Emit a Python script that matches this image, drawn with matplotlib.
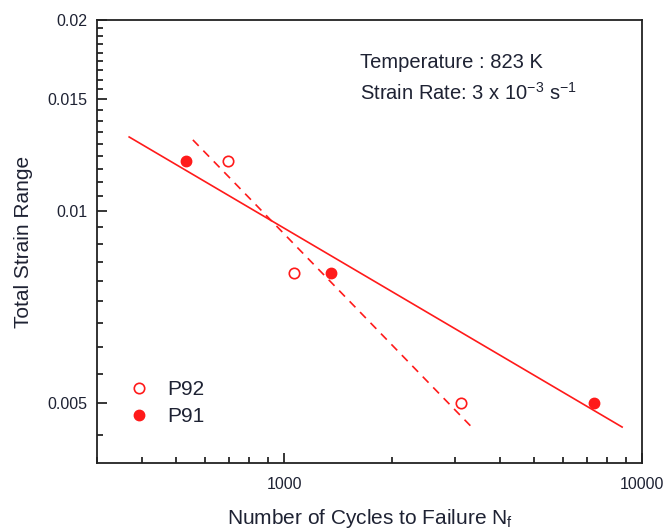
import numpy as np
import matplotlib
matplotlib.use("Agg")
import matplotlib.pyplot as plt
from matplotlib.ticker import FixedLocator, NullFormatter

plt.rcParams['font.family'] = ['Liberation Sans', 'DejaVu Sans']
plt.rcParams['mathtext.default'] = 'regular'

# data
p92_cycles = [699, 1066, 3122]
p92_strain = [0.012, 0.008, 0.005]
p91_cycles = [531, 1353, 7360]
p91_strain = [0.012, 0.008, 0.005]

# x extents of the fitted lines
p91_fit_range = [369, 8800]
p92_fit_range = [556, 3365]

y_major = [0.005, 0.01, 0.015, 0.02]
y_major_labels = ['0.005', '0.01', '0.015', '0.02']
x_major = [1000, 10000]
x_major_labels = ['1000', '10000']

red = '#ff1a1a'
txt = '#1e2233'


# fit log(N) against log(strain), return strain along the given N range
def fitLine(cycles, strain, xr):
    a, b = np.polyfit(np.log10(strain), np.log10(cycles), 1)
    lx = np.log10(np.array(xr, dtype=float))
    ly = (lx - b) / a
    return 10 ** lx, 10 ** ly


fig = plt.figure(figsize=(6.67, 5.29), dpi=100)
ax = fig.add_axes([0.1454, 0.1248, 0.8171, 0.8374])
ax.set_xscale('log')
ax.set_yscale('log')

fx, fy = fitLine(p91_cycles, p91_strain, p91_fit_range)
ax.plot(fx, fy, color=red, lw=1.2)
fx, fy = fitLine(p92_cycles, p92_strain, p92_fit_range)
ax.plot(fx, fy, color=red, lw=1.2, dashes=(5, 4))

ax.plot(p92_cycles, p92_strain, 'o', ms=7.5, mfc='white', mec=red, mew=1.2,
        ls='none', label='P92')
ax.plot(p91_cycles, p91_strain, 'o', ms=7.5, mfc=red, mec=red,
        ls='none', label='P91')

ax.set_xlim(300, 10000)
ax.set_ylim(0.00402, 0.02)

ax.xaxis.set_major_locator(FixedLocator(x_major))
ax.set_xticklabels(x_major_labels)
xminor = [v * d for d in [100, 1000] for v in range(2, 10) if 300 <= v * d <= 10000]
ax.xaxis.set_minor_locator(FixedLocator(xminor))
ax.xaxis.set_minor_formatter(NullFormatter())

ax.yaxis.set_major_locator(FixedLocator(y_major))
ax.set_yticklabels(y_major_labels)
yminor = []
for lo in [0.0, 0.005, 0.01, 0.015]:
    yminor += list(np.linspace(lo, lo + 0.005, 10)[1:-1])
ax.yaxis.set_minor_locator(FixedLocator(yminor))
ax.yaxis.set_minor_formatter(NullFormatter())

ax.tick_params(which='both', direction='in', top=False, right=False,
               labelsize=11.5, labelcolor=txt, width=1.1)
ax.tick_params(axis='x', pad=10)
ax.tick_params(axis='y', pad=7)
ax.tick_params(which='major', length=7)
ax.tick_params(which='minor', length=4.5)
for s in ax.spines.values():
    s.set_linewidth(1.3)
    s.set_color('#222222')

ax.set_xlabel('Number of Cycles to Failure N$_\\mathregular{f}$', fontsize=15,
              color=txt, labelpad=11)
ax.set_ylabel('Total Strain Range', fontsize=15, color=txt, labelpad=10)

ax.text(0.482, 0.905, 'Temperature : 823 K', transform=ax.transAxes,
        fontsize=14.5, color=txt, va='center')
ax.text(0.482, 0.835, 'Strain Rate: 3 x 10$^{-3}$ s$^{-1}$',
        transform=ax.transAxes, fontsize=14.5, color=txt, va='center')

ax.legend(loc='center left', bbox_to_anchor=(0.02, 0.135), frameon=False,
          fontsize=15, handletextpad=0.75, labelspacing=0.38,
          labelcolor=txt, handlelength=1.2)

fig.savefig('out.png', dpi=100)
